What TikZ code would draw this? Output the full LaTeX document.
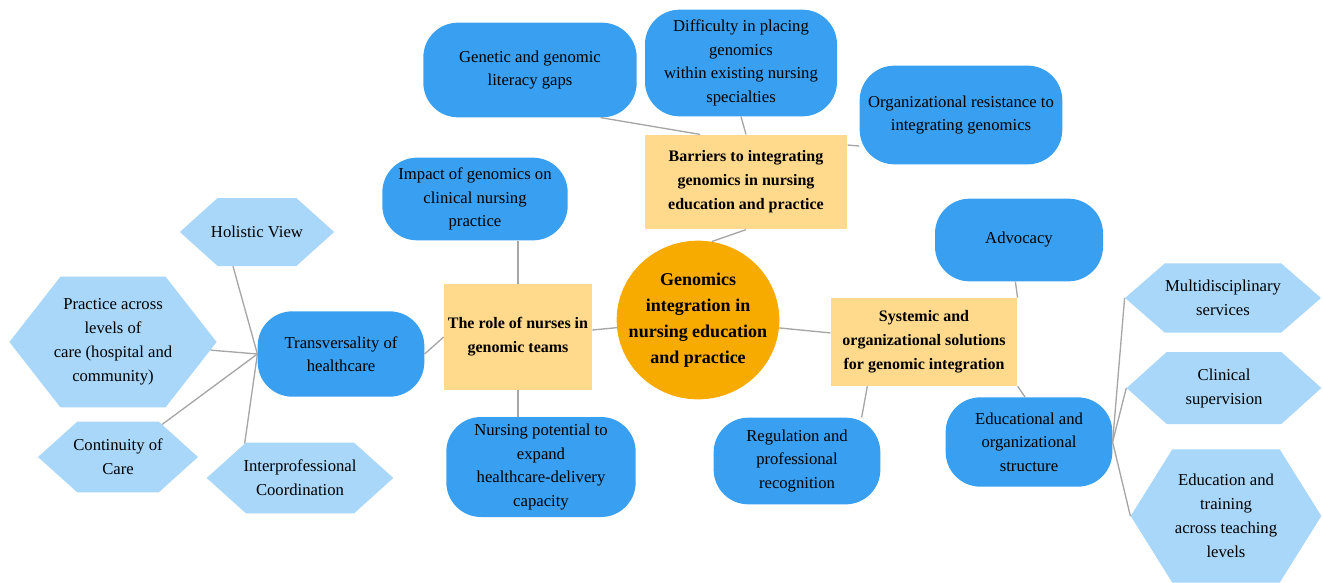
\documentclass[tikz,border=0pt]{standalone}
\usepackage{fontspec}
\setmainfont{Liberation Serif}
\usetikzlibrary{shapes.geometric,shapes.symbols}

\definecolor{hubfill}{HTML}{F7AA00}
\definecolor{themefill}{HTML}{FFD98C}
\definecolor{itemfill}{HTML}{399FF0}
\definecolor{leaffill}{HTML}{A8D7FA}
\definecolor{linkgray}{HTML}{A6A6A6}

\begin{document}
\begin{tikzpicture}[
	x=0.75pt, y=-0.75pt,
	hub/.style={
		ellipse,
		fill=hubfill,
		minimum width=122pt,
		minimum height=119pt,
		align=center,
		inner sep=-14pt,
		font=\fontsize{13.5}{19.5}\selectfont\bfseries
	},
	theme/.style={
		rectangle,
		fill=themefill,
		align=center,
		inner sep=3pt,
		font=\fontsize{12}{18}\selectfont\bfseries
	},
	item/.style={
		rectangle,
		rounded corners=26pt,
		fill=itemfill,
		align=center,
		inner sep=3pt,
		font=\fontsize{12.5}{17.6}\selectfont
	},
	leaf/.style={
		signal,
		signal to=east and west,
		signal pointer angle=#1,
		fill=leaffill,
		align=center,
		inner ysep=2pt,
		inner xsep=-5pt,
		font=\fontsize{12.5}{18}\selectfont
	},
	link/.style={draw=linkgray, line width=1pt}
]
\useasboundingbox (0,0) rectangle (1323,582);

% centre and main themes
\node[hub] (hub) at (698,320) {Genomics\\integration in\\nursing education\\and practice};

\node[theme, minimum width=152pt, minimum height=71pt] (barriers) at (746,182)
	{Barriers to integrating\\genomics in nursing\\education and practice};
\node[theme, minimum width=109pt, minimum height=79pt] (role) at (518,337)
	{The role of nurses in\\genomic teams};
\node[theme, minimum width=140pt, minimum height=66pt] (systemic) at (924,342)
	{Systemic and\\organizational solutions\\for genomic integration};

% barriers
\node[item, minimum width=160pt, minimum height=71pt] (literacy) at (530,70)
	{Genetic and genomic\\literacy gaps};
\node[item, minimum width=144pt, minimum height=80pt] (placing) at (741,63)
	{Difficulty in placing\\genomics\\within existing nursing\\specialties};
\node[item, minimum width=152pt, minimum height=74pt] (resist) at (961,115)
	{Organizational resistance to\\integrating genomics};

% role of nurses
\node[item, minimum width=139pt, minimum height=62pt] (impact) at (475,199)
	{Impact of genomics on\\clinical nursing\\practice};
\node[item, minimum width=125pt, minimum height=64pt] (transv) at (341,354)
	{Transversality of\\healthcare};
\node[item, minimum width=142pt, minimum height=75pt] (potential) at (541,467)
	{Nursing potential to\\expand\\healthcare-delivery\\capacity};

% solutions
\node[item, minimum width=126pt, minimum height=62pt] (advocacy) at (1019,240) {Advocacy};
\node[item, minimum width=125pt, minimum height=65pt] (regul) at (797,461)
	{Regulation and\\professional\\recognition};
\node[item, minimum width=125pt, minimum height=67pt] (edustruct) at (1029,442)
	{Educational and\\organizational\\structure};

% transversality leaves
\node[leaf=84, minimum height=51pt] (holistic) at (257,232) {Holistic View};
\node[leaf=104, minimum height=98pt] (levels) at (113,342)
	{Practice across\\levels of\\care (hospital and\\community)};
\node[leaf=84, minimum width=120pt, minimum height=53pt] (continuity) at (118,457)
	{Continuity of\\Care};
\node[leaf=84, minimum width=140pt, minimum height=53pt] (interprof) at (300,478)
	{Interprofessional\\Coordination};

% structure leaves
\node[leaf=82, minimum width=147pt, minimum height=52pt] (multi) at (1223,298)
	{Multidisciplinary\\services};
\node[leaf=84, minimum width=146pt, minimum height=54pt] (supervision) at (1224,388)
	{Clinical\\supervision};
\node[leaf=116, minimum width=143pt, minimum height=100pt] (training) at (1226,516)
	{Education and\\training\\across teaching\\levels};

% connectors
\draw[link] (hub.80) -- (barriers.south);
\draw[link] (hub) -- (role);
\draw[link] (hub) -- (systemic);
\draw[link] (literacy.-34) -- (barriers.134);
\draw[link] (placing.south) -- (barriers.north);
\draw[link] (barriers.20) -- (resist.197);
\draw[link] (role.north) -- (impact.south -| role.north);
\draw[link] (role.west) -- (transv.east);
\draw[link] (role.south) -- (role.south |- potential.north);
\draw[link] (advocacy.-95) -- (systemic.north east);
\draw[link] (systemic.-142) -- (regul.34);
\draw[link] (systemic.south east) -- (edustruct.95);
\draw[link] (transv.west) -- (holistic.-125);
\draw[link] (transv.west) -- (levels);
\draw[link] (transv.west) -- (continuity);
\draw[link] (transv.west) -- (interprof.148);
\draw[link] (edustruct.east) -- (multi.west);
\draw[link] (edustruct.east) -- (supervision.west);
\draw[link] (edustruct.east) -- (training.west);
\end{tikzpicture}
\end{document}
